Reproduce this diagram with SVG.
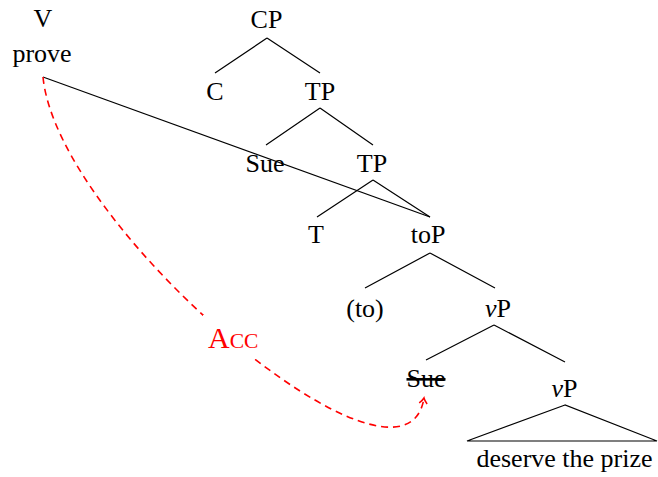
<svg xmlns="http://www.w3.org/2000/svg" width="658" height="477" viewBox="0 0 658 477">
<style>
  text { font-family: "Liberation Serif", "Times New Roman", serif; font-size: 26px; fill: #000; text-anchor: middle; }
  .edge { stroke: #000; stroke-width: 1.2; fill: none; }
  .move { stroke: #ff0000; stroke-width: 1.6; fill: none; stroke-dasharray: 7 5; }
  .acc { fill: #ff0000; text-anchor: start; font-size: 30px; }
  .it { font-style: italic; }
</style>
<defs>
  <marker id="arr" markerWidth="12" markerHeight="12" refX="8" refY="6" orient="auto" markerUnits="userSpaceOnUse">
    <path d="M2.5,2 Q5.5,5 8,6 Q5.5,7 2.5,10" fill="none" stroke="#ff0000" stroke-width="1.5"/>
  </marker>
</defs>
<g id="connectors">
  <path class="edge" d="M267,38 L215,73 M267,38 L320,73"/>
  <path class="edge" d="M320,108 L266,145 M320,108 L373,145"/>
  <path class="edge" d="M373,180 L317,217 M373,180 L430,217"/>
  <path class="edge" d="M430,253 L365,288 M430,253 L495,288"/>
  <path class="edge" d="M494,325 L426,360 M494,325 L565,362"/>
  <path class="edge" d="M43,77 L430,217"/>
  <path class="edge" d="M565,405 L467,441 L657,441 Z"/>
  <path class="move" d="M43,77 C58,230 405,520 424,398" marker-end="url(#arr)"/>
</g>
<g id="node-V"><text x="43" y="27">V</text></g>
<g id="node-prove"><text x="42" y="62">prove</text></g>
<g id="node-CP"><text x="266.5" y="28">CP</text></g>
<g id="node-C"><text x="215" y="100">C</text></g>
<g id="node-TP1"><text x="320" y="100">TP</text></g>
<g id="node-Sue1"><text x="265" y="172">Sue</text></g>
<g id="node-TP2"><text x="372" y="172">TP</text></g>
<g id="node-T"><text x="316" y="243">T</text></g>
<g id="node-toP"><text x="428" y="243">toP</text></g>
<g id="node-to"><text x="365" y="317">(to)</text></g>
<g id="node-vP1"><text x="498" y="317"><tspan class="it">v</tspan>P</text></g>
<g id="node-Sue2"><text x="426" y="387" text-decoration="line-through">Sue</text></g>
<g id="node-vP2"><text x="564.5" y="397"><tspan class="it">v</tspan>P</text></g>
<g id="node-deserve"><text x="564.5" y="467">deserve the prize</text></g>
<g id="label-Acc">
  <rect x="203" y="315" width="61" height="44" fill="#fff"/>
  <text class="acc" x="208" y="348">A<tspan font-size="21.5px">CC</tspan></text>
</g>
</svg>
